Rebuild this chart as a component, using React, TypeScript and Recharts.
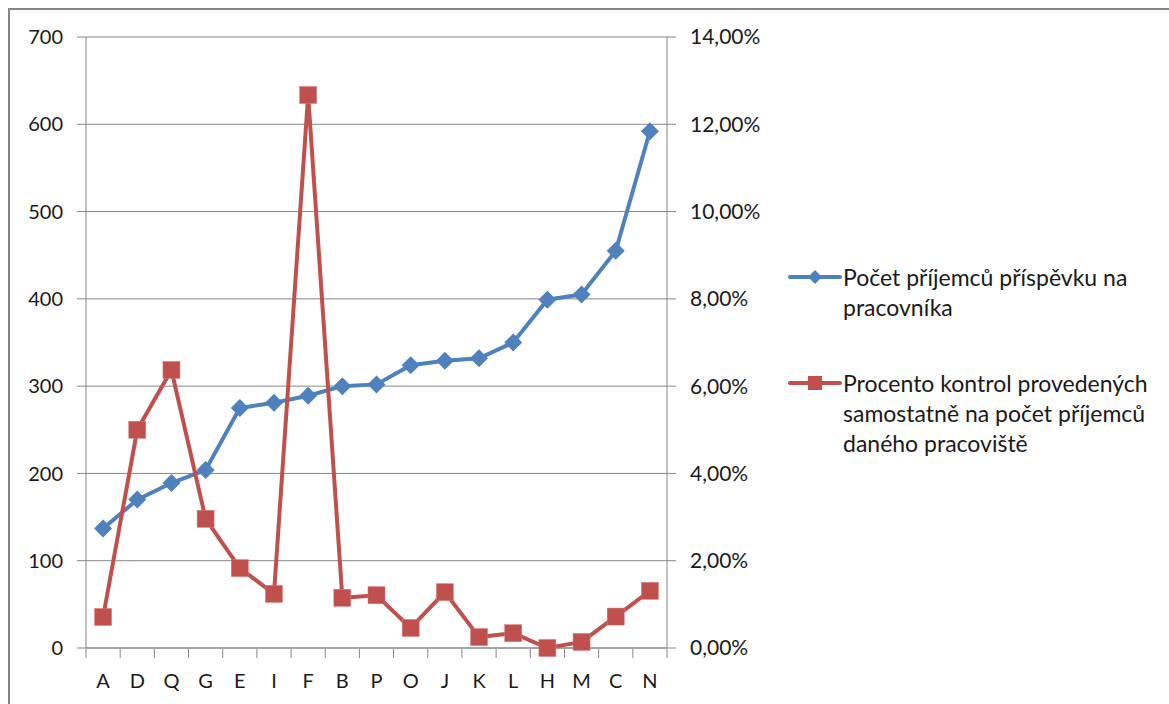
import { CartesianGrid, Line, LineChart, XAxis, YAxis } from 'recharts';

const categories = ['A', 'D', 'Q', 'G', 'E', 'I', 'F', 'B', 'P', 'O', 'J', 'K', 'L', 'H', 'M', 'C', 'N'];

// Počet příjemců příspěvku na pracovníka
const recipientsPerWorker = [137, 170, 189, 204, 275, 281, 289, 300, 302, 324, 329, 332, 350, 399, 405, 455, 592];

// Procento kontrol (as fraction)
const controlShare = [
  0.0071, 0.05, 0.0637, 0.0296, 0.0183, 0.0124, 0.1267, 0.0115, 0.0121, 0.0046, 0.0128, 0.0025, 0.0034, 0.0, 0.0014,
  0.0072, 0.0131,
];

const leftTicks = [0, 100, 200, 300, 400, 500, 600, 700];
const rightTicks = [0, 0.02, 0.04, 0.06, 0.08, 0.1, 0.12, 0.14];

const BLUE = '#4F81BD';
const RED = '#C0504D';
const AXIS = '#868686';
const TEXT = '#1a1a1a';
const FONT = 'Lato, "Open Sans", sans-serif';

const PLOT_WIDTH = 581;
const HALF_BAND = PLOT_WIDTH / categories.length / 2;

const data = categories.map((name, i) => ({
  name,
  recipients: recipientsPerWorker[i],
  share: controlShare[i],
}));

const formatPercent = (v: number) => `${(v * 100).toFixed(2).replace('.', ',')}%`;

function Diamond(props: any) {
  const { cx, cy } = props;
  if (cx == null || cy == null) return null;
  const r = 9;
  return <path d={`M${cx},${cy - r}L${cx + r},${cy}L${cx},${cy + r}L${cx - r},${cy}Z`} fill={BLUE} />;
}

function Square(props: any) {
  const { cx, cy } = props;
  if (cx == null || cy == null) return null;
  const r = 8.5;
  return <rect x={cx - r} y={cy - r} width={2 * r} height={2 * r} fill={RED} stroke="#d87b78" strokeWidth={0.5} />;
}

// category label in the band centre, tick marks on the band edges
function CategoryTick(props: any) {
  const { x, y, payload, index } = props;
  const isLast = index === categories.length - 1;
  return (
    <g>
      <line x1={x - HALF_BAND} y1={y - 1} x2={x - HALF_BAND} y2={y + 8} stroke={AXIS} />
      {isLast && <line x1={x + HALF_BAND} y1={y - 1} x2={x + HALF_BAND} y2={y + 8} stroke={AXIS} />}
      <text x={x} y={y + 38} textAnchor="middle" fill={TEXT} fontSize={20} fontFamily={FONT}>
        {payload.value}
      </text>
    </g>
  );
}

function ChartLegend() {
  const textStyle = { fontFamily: FONT, fontSize: 23, color: TEXT, lineHeight: '30px' };
  return (
    <div style={{ position: 'absolute', left: 787, top: 262, width: 380 }}>
      <div style={{ display: 'flex', alignItems: 'flex-start' }}>
        <svg width={56} height={30} style={{ flexShrink: 0 }}>
          <line x1={3} y1={15} x2={53} y2={15} stroke={BLUE} strokeWidth={4} strokeLinecap="round" />
          <path d="M28,8L35,15L28,22L21,15Z" fill={BLUE} />
        </svg>
        <div style={textStyle}>
          Počet příjemců příspěvku na
          <br />
          pracovníka
        </div>
      </div>
      <div style={{ display: 'flex', alignItems: 'flex-start', marginTop: 46 }}>
        <svg width={56} height={30} style={{ flexShrink: 0 }}>
          <line x1={3} y1={15} x2={53} y2={15} stroke={RED} strokeWidth={4} strokeLinecap="round" />
          <rect x={21} y={8} width={14} height={14} fill={RED} />
        </svg>
        <div style={textStyle}>
          Procento kontrol provedených
          <br />
          samostatně na počet příjemců
          <br />
          daného pracoviště
        </div>
      </div>
    </div>
  );
}

export default function App() {
  return (
    <div
      style={{
        position: 'absolute',
        left: 0,
        top: 0,
        width: 1169,
        height: 704,
        overflow: 'hidden',
        background: '#fff',
      }}
    >
      <div
        style={{
          position: 'absolute',
          left: 8,
          top: 8,
          width: 1300,
          height: 800,
          borderTop: '2px solid #858585',
          borderLeft: '2px solid #858585',
        }}
      />
      <div style={{ position: 'absolute', left: 0, top: 0 }}>
        <LineChart width={1169} height={704} data={data} margin={{ top: 37, right: 392, bottom: 0, left: 0 }}>
          <CartesianGrid vertical={false} stroke={AXIS} strokeWidth={1} yAxisId="left" />
          <XAxis
            dataKey="name"
            scale="band"
            stroke={AXIS}
            tickLine={false}
            tickSize={0}
            height={56}
            interval={0}
            tick={<CategoryTick />}
          />
          <YAxis
            yAxisId="left"
            orientation="left"
            width={86}
            domain={[0, 700]}
            ticks={leftTicks}
            stroke={AXIS}
            tickSize={9}
            tickMargin={14}
            tick={{ fill: TEXT, fontSize: 20, fontFamily: FONT }}
          />
          <YAxis
            yAxisId="right"
            orientation="right"
            width={110}
            domain={[0, 0.14]}
            ticks={rightTicks}
            tickFormatter={formatPercent}
            stroke={AXIS}
            tickSize={9}
            tickMargin={14}
            tick={{ fill: TEXT, fontSize: 21, fontFamily: FONT }}
          />
          <Line
            yAxisId="left"
            type="linear"
            dataKey="recipients"
            stroke={BLUE}
            strokeWidth={4}
            dot={<Diamond />}
            activeDot={false}
            isAnimationActive={false}
          />
          <Line
            yAxisId="right"
            type="linear"
            dataKey="share"
            stroke={RED}
            strokeWidth={4}
            dot={<Square />}
            activeDot={false}
            isAnimationActive={false}
          />
        </LineChart>
      </div>
      <ChartLegend />
    </div>
  );
}
